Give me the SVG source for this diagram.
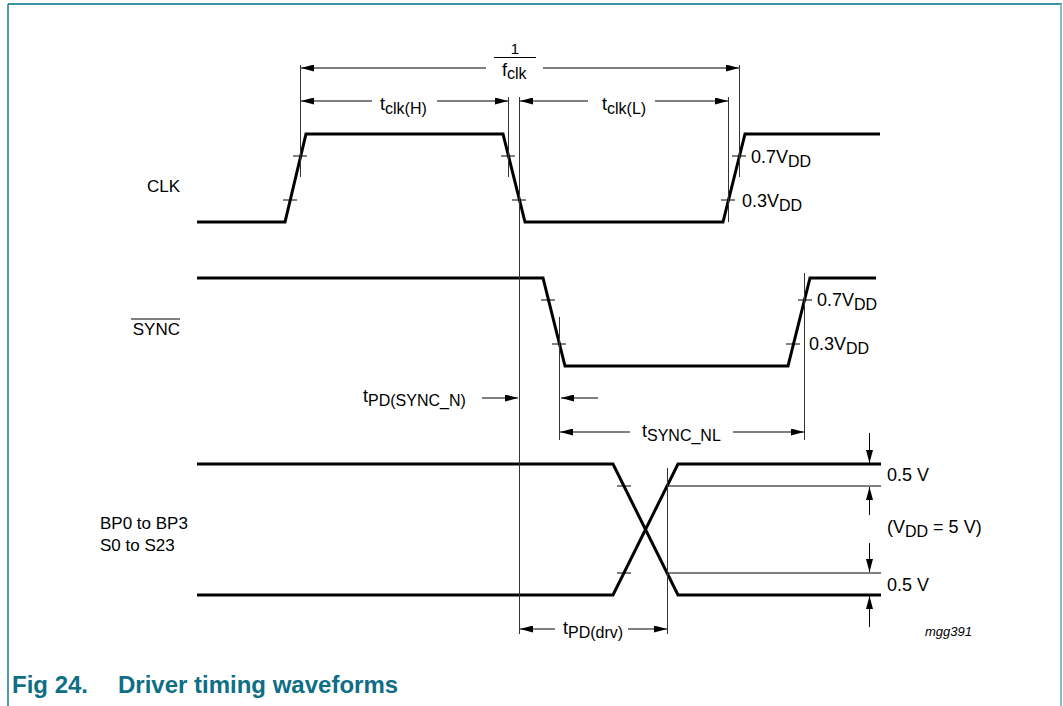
<svg xmlns="http://www.w3.org/2000/svg" width="1063" height="706" viewBox="0 0 1063 706">
<defs>
<marker id="a" viewBox="0 0 13 7" refX="13" refY="3.5" markerWidth="13" markerHeight="7" orient="auto-start-reverse" markerUnits="userSpaceOnUse"><path d="M0,0 L13,3.5 L0,7 z" fill="#000"/></marker>
<style>
.w{fill:none;stroke:#000;stroke-width:3;stroke-linejoin:miter}
.tk{stroke:#000;stroke-width:1}
.v{stroke:#333;stroke-width:1;fill:none}
.d{stroke:#000;stroke-width:1;fill:none}
.da{stroke:#000;stroke-width:1;fill:none;marker-end:url(#a)}
.ds{stroke:#000;stroke-width:1;fill:none;marker-start:url(#a)}
text{font-family:"Liberation Sans",Arial,Helvetica,sans-serif;font-size:18px;fill:#000}
.lb{font-size:17px}
.sb{font-size:16px}
.one{font-size:15px}
.cap{font-size:24px;font-weight:bold;fill:#0e6e86}
.id{font-size:13px;font-style:italic}
</style>
</defs>
<g id="frame">
<line x1="8" y1="4" x2="1062" y2="4" stroke="#3a93a2" stroke-width="2"/>
<line x1="8" y1="4" x2="8" y2="706" stroke="#117f8f" stroke-width="1.5"/>
<line x1="1061" y1="4" x2="1061" y2="706" stroke="#7ebdc8" stroke-width="2"/>
</g>
<g id="caption"><text class="cap" x="12" y="693">Fig 24.</text><text class="cap" x="118" y="693">Driver timing waveforms</text></g>
<g id="labels">
<text id="clk-label" class="lb" x="180" y="192" text-anchor="end">CLK</text>
<g id="sync-label"><text class="lb" x="180" y="335" text-anchor="end">SYNC</text><line x1="131" y1="319" x2="180" y2="319" stroke="#000" stroke-width="1"/></g>
<text id="bp-label" class="lb" x="100" y="529">BP0 to BP3</text>
<text id="s-label" class="lb" x="100" y="551">S0 to S23</text>
</g>
<g id="clk">
<path class="w" d="M197,222 H285 L306,134 H503 L525,222 H723 L745,134 H880"/>
<line class="tk" x1="293" y1="156" x2="307" y2="156"/>
<line class="tk" x1="283" y1="200" x2="297" y2="200"/>
<line class="tk" x1="501" y1="156" x2="515" y2="156"/>
<line class="tk" x1="512" y1="200" x2="526" y2="200"/>
<line class="tk" x1="732" y1="156" x2="746" y2="156"/>
<line class="tk" x1="721" y1="200" x2="735" y2="200"/>
</g>
<g id="sync">
<path class="w" d="M197,278 H543 L565,366 H788 L810,278 H876"/>
<line class="tk" x1="541" y1="300" x2="555" y2="300"/>
<line class="tk" x1="552" y1="344" x2="566" y2="344"/>
<line class="tk" x1="798" y1="300" x2="812" y2="300"/>
<line class="tk" x1="786" y1="344" x2="800" y2="344"/>
</g>
<g id="bp">
<path class="w" d="M197,464 H613 L678,595 H881"/>
<path class="w" d="M197,595 H613 L678,464 H881"/>
<line class="tk" x1="617" y1="486" x2="631" y2="486"/>
<line class="tk" x1="617" y1="573" x2="631" y2="573"/>
<line class="d" x1="667" y1="486" x2="881" y2="486"/>
<line class="d" x1="667" y1="573" x2="881" y2="573"/>
</g>
<g id="connectors">
<line class="v" x1="300.5" y1="65" x2="300.5" y2="177"/>
<line class="v" x1="508.5" y1="97" x2="508.5" y2="177"/>
<line class="v" x1="519.5" y1="97" x2="519.5" y2="634"/>
<line class="v" x1="728.5" y1="97" x2="728.5" y2="222"/>
<line class="v" x1="739.5" y1="65" x2="739.5" y2="177"/>
<line class="v" x1="559.5" y1="317" x2="559.5" y2="440"/>
<line class="v" x1="804.5" y1="273" x2="804.5" y2="440"/>
<line class="v" x1="667.5" y1="468" x2="667.5" y2="634"/>
<line class="ds" x1="301" y1="68" x2="486" y2="68"/>
<line class="da" x1="543" y1="68" x2="739" y2="68"/>
<line class="ds" x1="301" y1="101" x2="372" y2="101"/>
<line class="da" x1="437" y1="101" x2="508" y2="101"/>
<line class="ds" x1="520" y1="101" x2="588" y2="101"/>
<line class="da" x1="655" y1="101" x2="728" y2="101"/>
<line class="da" x1="482" y1="398" x2="518" y2="398"/>
<line class="ds" x1="561" y1="398" x2="598" y2="398"/>
<line class="ds" x1="560" y1="432" x2="630" y2="432"/>
<line class="da" x1="733" y1="432" x2="804" y2="432"/>
<line class="ds" x1="520" y1="629" x2="555" y2="629"/>
<line class="da" x1="628" y1="629" x2="667" y2="629"/>
<line class="da" x1="869.5" y1="433" x2="869.5" y2="463"/>
<line class="da" x1="869.5" y1="515" x2="869.5" y2="487"/>
<line class="da" x1="869.5" y1="543" x2="869.5" y2="572"/>
<line class="da" x1="869.5" y1="627" x2="869.5" y2="596"/>
</g>
<g id="dim-labels">
<text x="515" y="54" text-anchor="middle" class="one">1</text>
<line x1="494" y1="57.5" x2="536" y2="57.5" stroke="#000" stroke-width="1"/>
<text x="502" y="76">f<tspan class="sb" dy="3">clk</tspan></text>
<text x="380" y="110">t<tspan class="sb" dy="4">clk(H)</tspan></text>
<text x="602" y="110">t<tspan class="sb" dy="4">clk(L)</tspan></text>
<text x="751" y="163">0.7V<tspan class="sb" dy="4">DD</tspan></text>
<text x="742" y="207">0.3V<tspan class="sb" dy="4">DD</tspan></text>
<text x="817" y="306">0.7V<tspan class="sb" dy="4">DD</tspan></text>
<text x="809" y="350">0.3V<tspan class="sb" dy="4">DD</tspan></text>
<text x="363" y="402">t<tspan class="sb" dy="4">PD(SYNC_N)</tspan></text>
<text x="642" y="437">t<tspan class="sb" dy="4">SYNC_NL</tspan></text>
<text x="563" y="634">t<tspan class="sb" dy="4">PD(drv)</tspan></text>
<text x="887" y="481">0.5 V</text>
<text x="887" y="533">(V<tspan class="sb" dy="4">DD</tspan><tspan dy="-4"> = 5 V)</tspan></text>
<text x="887" y="591">0.5 V</text>
<text x="925" y="636" class="id">mgg391</text>
</g>
</svg>
